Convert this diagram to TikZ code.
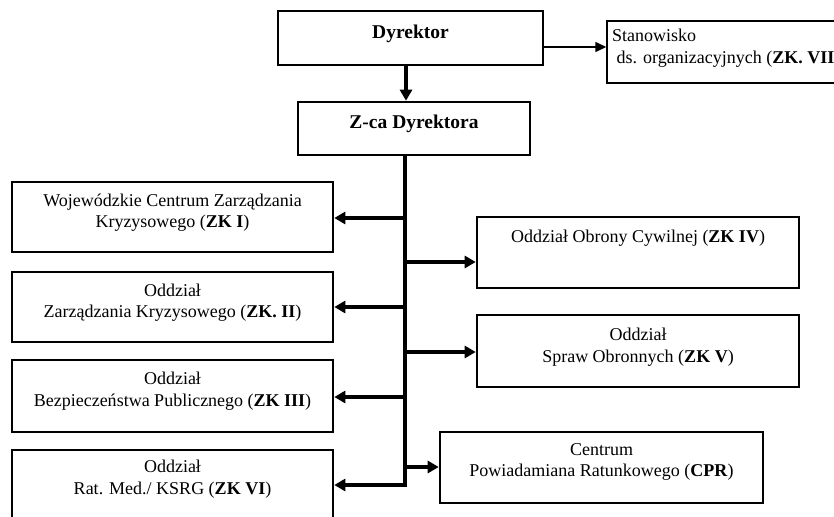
\documentclass[tikz,border=0pt]{standalone}
\usepackage{fontspec}
\setmainfont{Liberation Serif}
\usetikzlibrary{arrows.meta}
\tikzset{
  box/.style={draw, line width=2.6pt, minimum width=#1, inner sep=0pt},
  thinbox/.style={draw, line width=1.4pt, inner sep=0pt},
  txt/.style={align=center, inner sep=0pt, font=\fontsize{18}{21.5}\selectfont},
  ttl/.style={align=center, inner sep=0pt, font=\fontsize{19.5}{22}\selectfont\bfseries},
  thick arr/.style={line width=4pt, -{Triangle[length=11pt,width=12pt]}},
  mid arr/.style={line width=3.4pt, -{Triangle[length=11pt,width=12pt]}},
  thin arr/.style={line width=1.4pt, -{Triangle[length=11pt,width=10pt]}},
}
\begin{document}
\begin{tikzpicture}[x=1pt,y=-1pt]
\useasboundingbox (0,0) rectangle (834,516);
\clip (0,0) rectangle (834,516);
\fill[white] (0,0) rectangle (834,516);
% boxes
\node[box=265pt, minimum height=54pt] (dyr) at (410.5,38) {};
\node[box=232pt, minimum height=53pt] (zca) at (414,128.5) {};
\node[thinbox, minimum width=260pt, minimum height=62pt] (stan) at (737,52) {};
\node[box=321pt, minimum height=70pt] (b1) at (172.5,217) {};
\node[box=321pt, minimum height=70pt] (b2) at (172.5,307) {};
\node[box=321pt, minimum height=72pt] (b3) at (172.5,396) {};
\node[box=321pt, minimum height=90pt] (b4) at (172.5,495) {};
\node[box=322pt, minimum height=71pt] (b5) at (638,252.5) {};
\node[box=322pt, minimum height=72pt] (b6) at (638,351) {};
\node[box=323pt, minimum height=71pt] (b7) at (601.5,467.5) {};
% texts
\node[ttl] (tdyr) at (410.5,34) {Dyrektor};
\node[ttl] (tzca) at (414,124) {Z-ca Dyrektora};
\node[txt, align=left, anchor=west] (tstan) at (612,48) {Stanowisko\\\ ds. organizacyjnych (\textbf{ZK. VII})};
\node[txt] (tb1) at (172.5,212.5) {Wojewódzkie Centrum Zarządzania\\Kryzysowego (\textbf{ZK I})};
\node[txt] (tb2) at (172.5,302.5) {Oddział\\Zarządzania Kryzysowego (\textbf{ZK. II})};
\node[txt] (tb3) at (172.5,391) {Oddział\\Bezpieczeństwa Publicznego (\textbf{ZK III})};
\node[txt] (tb4) at (172.5,479) {Oddział\\Rat. Med./ KSRG (\textbf{ZK VI})};
\node[txt] (tb5) at (638,238) {Oddział Obrony Cywilnej (\textbf{ZK IV})};
\node[txt] (tb6) at (638,347) {Oddział\\Spraw Obronnych (\textbf{ZK V})};
\node[txt] (tb7) at (601.5,462) {Centrum\\Powiadamiana Ratunkowego (\textbf{CPR})};
% trunk coordinates
\coordinate (top) at (405,155);
\coordinate (l1) at (405,218);
\coordinate (l2) at (405,307);
\coordinate (l3) at (405,397);
\coordinate (l4) at (405,485);
\coordinate (r1) at (405,262);
\coordinate (r2) at (405,352);
\coordinate (r3) at (405,467);
\coordinate (ds) at (406,65);
\coordinate (ss) at (543,47);
% connectors
\draw[thick arr] (ds) -- (ds |- zca.north);
\draw[thin arr] (ss) -- (ss -| stan.west);
\draw[line width=4.6pt] (top) -- ([yshift=2.3pt]l4);
\draw[thick arr] ([xshift=2.3pt]l4) -- (l4 -| b4.east);
\draw[thick arr] (l1) -- (l1 -| b1.east);
\draw[thick arr] (l2) -- (l2 -| b2.east);
\draw[thick arr] (l3) -- (l3 -| b3.east);
\draw[mid arr] (r1) -- (r1 -| b5.west);
\draw[mid arr] (r2) -- (r2 -| b6.west);
\draw[mid arr] (r3) -- (r3 -| b7.west);
\end{tikzpicture}
\end{document}
